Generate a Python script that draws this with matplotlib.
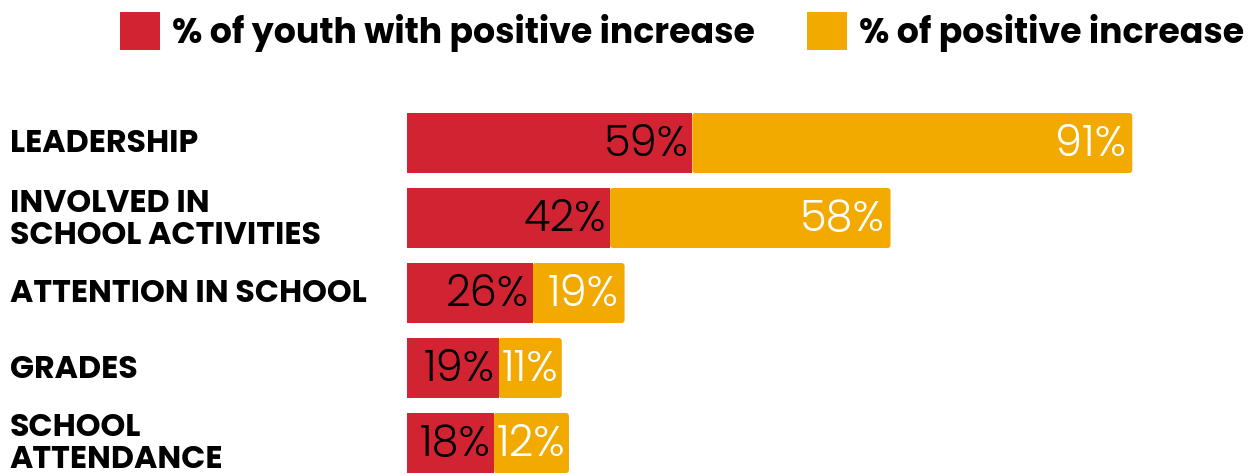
import matplotlib.pyplot as plt
import matplotlib.transforms as mtransforms
from matplotlib.patches import FancyBboxPatch, Patch
import numpy as np

# Data
categories = ["LEADERSHIP", "INVOLVED IN\nSCHOOL ACTIVITIES", "ATTENTION IN SCHOOL",
              "GRADES", "SCHOOL\nATTENDANCE"]
youth_pct = [59, 42, 26, 19, 18]
increase_pct = [91, 58, 19, 11, 12]
series_names = ["% of youth with positive increase", "% of positive increase"]

RED = "#D22333"
YELLOW = "#F2AA00"
LABEL_FONT = ["Poppins", "Open Sans", "DejaVu Sans"]
NUM_FONT = ["Poppins", "Lato", "Roboto", "DejaVu Sans"]

W, H, DPI = 1254, 475, 100
fig = plt.figure(figsize=(W / DPI, H / DPI), dpi=DPI)

# axes: bars start at x=407px, 4.835px per percentage point, 75px per row
px_per_unit = 4.835
left_px = 407
ax = fig.add_axes([left_px / W, 0, (W - left_px) / W, 1])
ax.set_xlim(0, (W - left_px) / px_per_unit)
row_px, first_px = 75, 143
ax.set_ylim((H - first_px) / row_px, -first_px / row_px)
ax.axis("off")

bar_h = 60 / row_px
y = np.arange(len(categories))

# rounded right corners: radius ~3px
r_x = 3 / px_per_unit
r_y = 3 / row_px
renderer = fig.canvas.get_renderer()


def rounded_bar(x0, yc, width, color, z):
    ax.add_patch(FancyBboxPatch((x0, yc - bar_h / 2), width, bar_h,
                                boxstyle=f"round,pad=0,rounding_size={r_x}",
                                mutation_aspect=r_y / r_x,
                                fc=color, ec="none", zorder=z))


for i, (a, b) in enumerate(zip(youth_pct, increase_pct)):
    yc = y[i]
    rounded_bar(a, yc, b, YELLOW, 2)
    ax.barh(yc, a, height=bar_h, left=0, color=RED, zorder=3)

    ax.text(a - 0.8, yc + 0.03, f"{a}%", ha="right", va="center",
            fontsize=31, family=NUM_FONT, weight=300, color="black", zorder=5)
    t2 = ax.text(a + b - 1.2, yc + 0.03, f"{b}%", ha="right", va="center",
                 fontsize=31, family=NUM_FONT, weight=300, color="white", zorder=5)
    w2 = t2.get_window_extent(renderer=renderer).width / px_per_unit
    if w2 + 1.6 > b:
        # label wider than its segment: start it at the segment edge on a yellow tab
        t2.set_x(a + 0.5)
        t2.set_ha("left")
        rounded_bar(a, yc, w2 + 1.3, YELLOW, 1)

# category labels
trans = mtransforms.blended_transform_factory(fig.transFigure, ax.transData)
for i, name in enumerate(categories):
    ax.text(10 / W, y[i] + 0.02, name, transform=trans, ha="left", va="center",
            fontsize=22.8, family=LABEL_FONT, weight="bold", color="black",
            linespacing=1.0, clip_on=False)

# legend
handles = [Patch(facecolor=RED, edgecolor="none"), Patch(facecolor=YELLOW, edgecolor="none")]
fig.legend(handles, series_names, ncol=2, loc="upper left",
           bbox_to_anchor=(120 / W, 1 - 12 / H), frameon=False,
           borderpad=0, borderaxespad=0, handlelength=1.15, handleheight=1.3,
           handletextpad=0.35, columnspacing=1.5,
           prop=dict(family=LABEL_FONT, weight="bold", size=25))

fig.savefig("out.png", dpi=DPI)
